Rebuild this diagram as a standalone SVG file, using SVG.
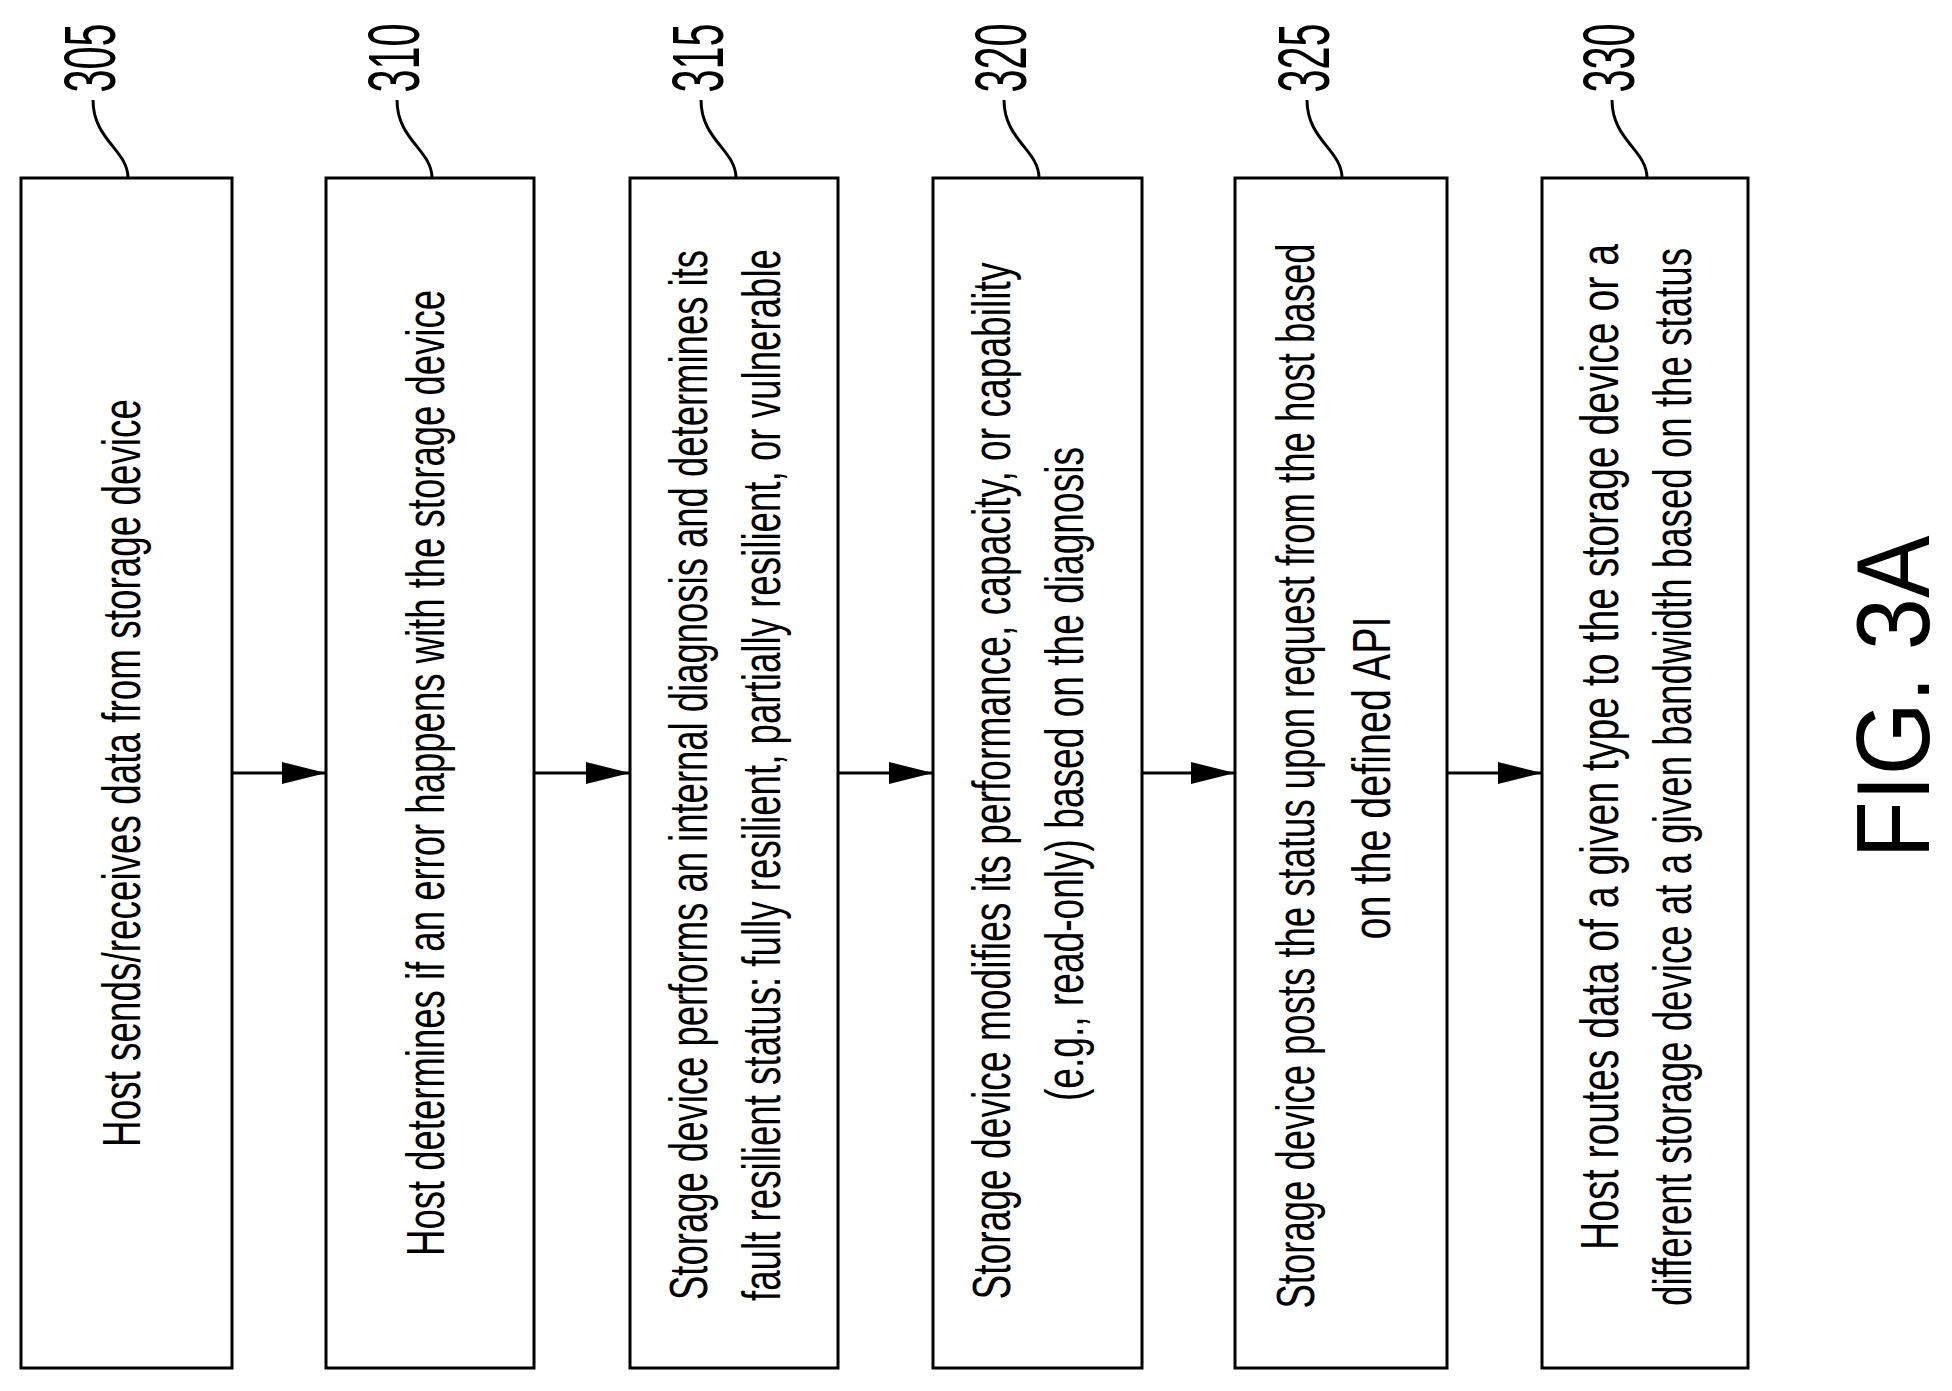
<svg xmlns="http://www.w3.org/2000/svg" width="1952" height="1391" viewBox="0 0 1952 1391">
<defs>
<style>
.box{fill:#fff;stroke:#000;stroke-width:3}
.t{font-family:"Liberation Sans",Arial,sans-serif;font-size:54px;text-anchor:middle;fill:#000}
.n{font-family:"Liberation Sans",Arial,sans-serif;font-size:72px;text-anchor:middle;fill:#000}
.ld{fill:none;stroke:#000;stroke-width:3}
.c{stroke:#000;stroke-width:3;fill:none}
</style>
<marker id="a" viewBox="0 0 44 22" refX="44" refY="11" markerWidth="44" markerHeight="22" markerUnits="userSpaceOnUse" orient="auto"><path d="M0,0 L44,11 L0,22 z" fill="#000"/></marker>
</defs>
<rect width="1952" height="1391" fill="#fff"/>
<g id="n305">
<rect class="box" x="21" y="178" width="211" height="1190"/>
<path class="ld" d="M93,100 C93,140 128,150 128,178"/>
<text class="n" transform="translate(115,58) rotate(-90)" textLength="69" lengthAdjust="spacingAndGlyphs">305</text>
<text class="t" transform="translate(140,773) rotate(-90)" textLength="748" lengthAdjust="spacingAndGlyphs">Host sends/receives data from storage device</text>
</g>
<g id="n310">
<rect class="box" x="326" y="178" width="208" height="1190"/>
<path class="ld" d="M397,100 C397,140 432,150 432,178"/>
<text class="n" transform="translate(419,58) rotate(-90)" textLength="69" lengthAdjust="spacingAndGlyphs">310</text>
<text class="t" transform="translate(444,773) rotate(-90)" textLength="966" lengthAdjust="spacingAndGlyphs">Host determines if an error happens with the storage device</text>
</g>
<g id="n315">
<rect class="box" x="630" y="178" width="208" height="1190"/>
<path class="ld" d="M701,100 C701,140 736,150 736,178"/>
<text class="n" transform="translate(723,58) rotate(-90)" textLength="69" lengthAdjust="spacingAndGlyphs">315</text>
<text class="t" transform="translate(707,775) rotate(-90)" textLength="1050" lengthAdjust="spacingAndGlyphs">Storage device performs an internal diagnosis and determines its</text>
<text class="t" transform="translate(780,775) rotate(-90)" textLength="1052" lengthAdjust="spacingAndGlyphs">fault resilient status: fully resilient, partially resilient, or vulnerable</text>
</g>
<g id="n320">
<rect class="box" x="933" y="178" width="209" height="1190"/>
<path class="ld" d="M1004,100 C1004,140 1039,150 1039,178"/>
<text class="n" transform="translate(1026,58) rotate(-90)" textLength="69" lengthAdjust="spacingAndGlyphs">320</text>
<text class="t" transform="translate(1010,781) rotate(-90)" textLength="1037" lengthAdjust="spacingAndGlyphs">Storage device modifies its performance, capacity, or capability</text>
<text class="t" transform="translate(1083,774) rotate(-90)" textLength="654" lengthAdjust="spacingAndGlyphs">(e.g., read-only)  based on the diagnosis</text>
</g>
<g id="n325">
<rect class="box" x="1235" y="178" width="212" height="1190"/>
<path class="ld" d="M1307,100 C1307,140 1342,150 1342,178"/>
<text class="n" transform="translate(1329,58) rotate(-90)" textLength="69" lengthAdjust="spacingAndGlyphs">325</text>
<text class="t" transform="translate(1314,776) rotate(-90)" textLength="1065" lengthAdjust="spacingAndGlyphs">Storage device posts the status upon request from the host based</text>
<text class="t" transform="translate(1390,778) rotate(-90)" textLength="323" lengthAdjust="spacingAndGlyphs">on the defined API</text>
</g>
<g id="n330">
<rect class="box" x="1542" y="178" width="206" height="1190"/>
<path class="ld" d="M1612,100 C1612,140 1647,150 1647,178"/>
<text class="n" transform="translate(1634,58) rotate(-90)" textLength="69" lengthAdjust="spacingAndGlyphs">330</text>
<text class="t" transform="translate(1618,747) rotate(-90)" textLength="1006" lengthAdjust="spacingAndGlyphs">Host routes data of a given type to the storage device or a</text>
<text class="t" transform="translate(1691,777) rotate(-90)" textLength="1058" lengthAdjust="spacingAndGlyphs">different storage device at a given bandwidth based on the status</text>
</g>
<g id="connectors">
<line class="c" x1="232" y1="773" x2="326" y2="773" marker-end="url(#a)"/>
<line class="c" x1="534" y1="773" x2="630" y2="773" marker-end="url(#a)"/>
<line class="c" x1="838" y1="773" x2="933" y2="773" marker-end="url(#a)"/>
<line class="c" x1="1142" y1="773" x2="1235" y2="773" marker-end="url(#a)"/>
<line class="c" x1="1447" y1="773" x2="1542" y2="773" marker-end="url(#a)"/>
</g>
<text class="t" style="font-size:104px" transform="translate(1929,697) rotate(-90)" textLength="323" lengthAdjust="spacingAndGlyphs">FIG. 3A</text>
</svg>
